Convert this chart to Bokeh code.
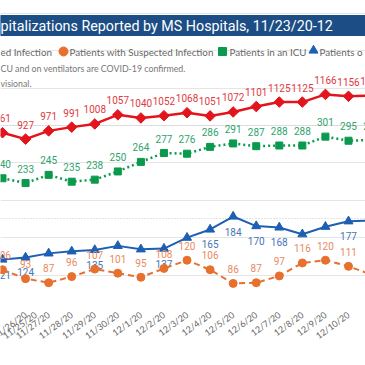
from bokeh.plotting import figure
from bokeh.models import Range1d, FixedTicker, Grid
from bokeh.core.properties import value
from bokeh.embed import file_html
from bokeh.resources import INLINE

# ---------------- data ----------------
dates = ["11/25/20", "11/26/20", "11/27/20", "11/28/20", "11/29/20", "11/30/20",
         "12/1/20", "12/2/20", "12/3/20", "12/4/20", "12/5/20", "12/6/20",
         "12/7/20", "12/8/20", "12/9/20", "12/10/20", "12/11/20"]
confirmed = [961, 927, 971, 991, 1008, 1057, 1040, 1052, 1068, 1051, 1072, 1101,
             1125, 1125, 1166, 1156, 1160]
suspected = [106, 93, 87, 96, 107, 101, 95, 108, 120, 106, 86, 87, 97, 116, 120, 111, 99]
icu = [240, 233, 245, 235, 238, 250, 264, 277, 276, 286, 291, 287, 288, 288, 301, 295, 296]
vent = [121, 124, 130, 133, 135, 141, 136, 137, 153, 165, 184, 170, 168, 158, 169, 177, 178]
vent_labeled = ["11/25/20", "11/26/20", "11/29/20", "12/2/20", "12/4/20", "12/5/20",
                "12/6/20", "12/7/20", "12/10/20"]
grid_values = [0, 500, 1000, 1500]

title = "pitalizations Reported by MS Hospitals, 11/23/20-12"
legend_items = ["ed Infection", "Patients with Suspected Infection",
                "Patients in an ICU", "Patients o"]
notes = ["CU and on ventilators are COVID-19 confirmed.", "visional."]

# ---------------- styling ----------------
RED, RED_L = "#e3141c", "#de3a3f"
ORANGE, ORANGE_L = "#e8702e", "#e98a5c"
GREEN, GREEN_L = "#0b9a4d", "#2ea36b"
BLUE, BLUE_L = "#1d5fb3", "#4676b6"
NAVY = "#1c4d85"
GREY = "#666666"
LABEL_FONT = value("'Noto Sans Condensed', 'Liberation Sans Narrow', Roboto, sans-serif")
UI_FONT = value("Lato")

W, H = 365, 365
FRAME_H = 312
step = 23.067
xs = list(range(len(dates)))

p = figure(frame_width=W, frame_height=FRAME_H, output_backend="svg", toolbar_location=None,
           x_range=Range1d(-2 / step, 15 + 17 / step),
           y_range=Range1d(0, 1668),
           y_axis_location=None,
           min_border_left=0, min_border_right=0, min_border_top=0,
           min_border_bottom=H - FRAME_H,
           outline_line_color=None, background_fill_color="white",
           border_fill_color="white")
p.extra_y_ranges = {"sec": Range1d(43.4, 500.4), "px": Range1d(0, FRAME_H)}
p.extra_x_ranges = {"px": Range1d(0, W)}

p.xgrid.visible = False
p.add_layout(Grid(dimension=1, ticker=FixedTicker(ticks=grid_values),
                  grid_line_color="#c9c9c9", grid_line_dash="1 2", grid_line_width=1))

ax = p.xaxis[0]
ax.ticker = FixedTicker(ticks=xs)
# bounds narrower than the range span are used as given, so the label of the
# last (partially visible) date is drawn too
ax.bounds = (xs[1], xs[-1])
ax.major_label_overrides = {i: d for i, d in zip(xs, dates)}
ax.major_label_orientation = 0.63
ax.axis_line_color = None
ax.major_tick_line_color = None
ax.minor_tick_line_color = None
ax.major_tick_out = 0
ax.major_tick_in = 0
ax.minor_tick_out = 0
ax.major_label_standoff = 1
ax.major_label_text_font = "Lato"
ax.major_label_text_font_size = "9px"
ax.major_label_text_color = GREY

# ---------------- series ----------------
# confirmed (primary axis)
p.line(xs, confirmed, color=RED, line_width=2.5)
p.scatter(xs, confirmed, marker="square", angle=0.785, size=7.5, color=RED)
p.text(xs, confirmed, text=[str(v) for v in confirmed], y_offset=-14.5,
       text_align="center", text_baseline="middle", text_font=LABEL_FONT,
       text_font_size="10px", text_color=RED_L)

# ICU
p.line(xs, icu, y_range_name="sec", color=GREEN, line_width=2.5, line_dash="2 3")
p.scatter(xs, icu, y_range_name="sec", marker="square", size=7, color=GREEN)
p.text(xs, icu, y_range_name="sec", text=[str(v) for v in icu], y_offset=-14.5,
       text_align="center", text_baseline="middle", text_font=LABEL_FONT,
       text_font_size="10px", text_color=GREEN_L)

# ventilators
p.line(xs, vent, y_range_name="sec", color=BLUE, line_width=2)
p.scatter(xs, vent, y_range_name="sec", marker="triangle", size=9, color=BLUE)
vx = [i for i, d in zip(xs, dates) if d in vent_labeled]
vv = [v for v, d in zip(vent, dates) if d in vent_labeled]
p.text(vx, vv, y_range_name="sec", text=[str(v) for v in vv], y_offset=15,
       text_align="center", text_baseline="middle", text_font=LABEL_FONT,
       text_font_size="10px", text_color=BLUE_L)

# suspected
p.line(xs, suspected, y_range_name="sec", color=ORANGE, line_width=2, line_dash="6 4")
p.scatter(xs, suspected, y_range_name="sec", marker="circle", size=8, color=ORANGE)
p.text(xs, suspected, y_range_name="sec", text=[str(v) for v in suspected], y_offset=-14.5,
       text_align="center", text_baseline="middle", text_font=LABEL_FONT,
       text_font_size="10px", text_color=ORANGE_L)

# ---------------- header ----------------
def py(y):
    return FRAME_H - y

p.quad(left=[0], right=[W], top=[py(15)], bottom=[py(35)], x_range_name="px",
       y_range_name="px", color=NAVY)
p.text([0], [py(25)], text=[title], x_range_name="px", y_range_name="px",
       text_font=value("Roboto"), text_font_size="14.3px", text_color="white",
       text_align="left", text_baseline="middle")

p.text([0, 69, 229, 319], [py(51)] * 4, text=legend_items, x_range_name="px",
       y_range_name="px", text_font=UI_FONT, text_font_size="9.8px", text_color=GREY,
       text_align="left", text_baseline="middle")
p.scatter([63, 222, 313], [py(51), py(51), py(50)], x_range_name="px", y_range_name="px",
          marker=["circle", "square", "triangle"], size=[9, 8, 9],
          color=[ORANGE, GREEN, BLUE])

p.text([0, 0], [py(68), py(83)], text=notes, x_range_name="px", y_range_name="px",
       text_font=UI_FONT, text_font_size="8.8px", text_color="#777777",
       text_align="left", text_baseline="middle")

open("out.html", "w").write(file_html(p, INLINE))
